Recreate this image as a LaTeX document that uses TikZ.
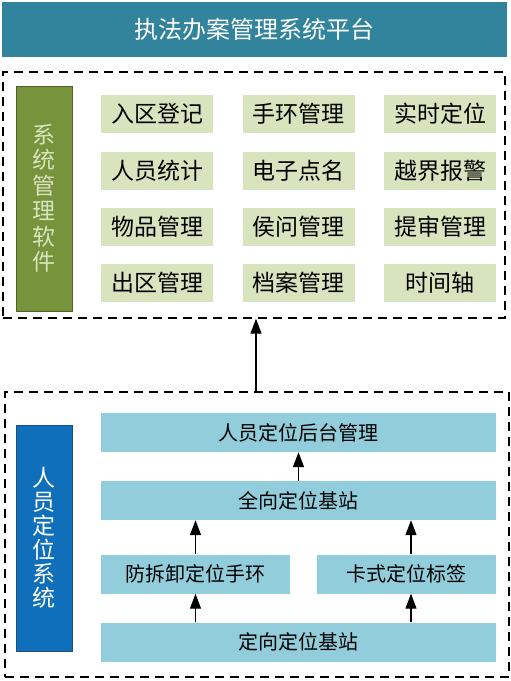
\documentclass[tikz,border=0pt]{standalone}
\usepackage{fontspec}
\usepackage{xcolor}
\newfontfamily\cjk{Noto Sans CJK SC}
\usetikzlibrary{arrows.meta}

\definecolor{bannerteal}{HTML}{31849B}
\definecolor{softgreen}{HTML}{77933C}
\definecolor{softgreenline}{HTML}{4F6228}
\definecolor{funcgreen}{HTML}{D7E4BD}
\definecolor{locblue}{HTML}{0F6FBA}
\definecolor{locblueline}{HTML}{1F4E79}
\definecolor{partblue}{HTML}{92CDDC}

\tikzset{
  banner/.style={fill=bannerteal, text=white, minimum width=505pt, minimum height=55pt,
    font=\cjk\fontsize{24}{27}\selectfont},
  groupbox/.style={draw, line width=1.3pt, dash pattern=on 9pt off 6pt},
  sidebox/.style={draw, line width=1pt, minimum width=56pt, align=center, inner sep=0pt},
  func/.style={fill=funcgreen, minimum width=112pt, minimum height=38pt,
    font=\cjk\fontsize{23}{26}\selectfont},
  part/.style={fill=partblue, minimum height=39pt, inner sep=0pt,
    font=\cjk\fontsize{20}{23}\selectfont},
  uparrow/.style={-{Triangle[length=15pt,width=11pt]}, line width=1.2pt}
}

\begin{document}
\begin{tikzpicture}[x=1pt,y=-1pt]
    \useasboundingbox (0,0) rectangle (511,681);
    % platform banner
    \node[banner] (platform) at (254.5,29.5) {执法办案管理系统平台};

    % management software
    \node[groupbox, minimum width=502pt, minimum height=246pt] (softbox) at (254,195) {};
    \node[sidebox, fill=softgreen, draw=softgreenline, text=funcgreen, minimum height=225pt,
      font=\cjk\fontsize{23}{25.5}\selectfont] (soft) at (44,198.5)
      {系\\统\\管\\理\\软\\件};
    \node[func] (f11) at (157,114) {入区登记};
    \node[func] (f12) at (298.5,114) {手环管理};
    \node[func] (f13) at (440,114) {实时定位};
    \node[func] (f21) at (157,171) {人员统计};
    \node[func] (f22) at (298.5,171) {电子点名};
    \node[func] (f23) at (440,171) {越界报警};
    \node[func] (f31) at (157,227) {物品管理};
    \node[func] (f32) at (298.5,227) {侯问管理};
    \node[func] (f33) at (440,227) {提审管理};
    \node[func] (f41) at (157,283) {出区管理};
    \node[func] (f42) at (298.5,283) {档案管理};
    \node[func] (f43) at (440,283) {时间轴};

    % personnel positioning
    \node[groupbox, minimum width=504pt, minimum height=285pt] (locbox) at (257,534.5) {};
    \node[sidebox, fill=locblue, draw=locblueline, text=white, minimum height=226pt,
      font=\cjk\fontsize{23}{24}\selectfont] (loc) at (44,538)
      {人\\员\\定\\位\\系\\统};
    \node[part, minimum width=395pt] (backend) at (298.5,432.5) {人员定位后台管理};
    \node[part, minimum width=395pt] (omni) at (298.5,500.5) {全向定位基站};
    \node[part, minimum width=189pt] (band) at (195.5,574) {防拆卸定位手环};
    \node[part, minimum width=179pt] (card) at (406.5,574) {卡式定位标签};
    \node[part, minimum width=395pt] (direct) at (298.5,642) {定向定位基站};

    \draw[uparrow] (omni) -- (backend);
    \draw[uparrow] (band) -- (band |- omni.south);
    \draw[uparrow] (card.north -| 411,0) -- (omni.south -| 411,0);
    \draw[uparrow] (direct.north -| band) -- (band);
    \draw[uparrow] (direct.north -| 411,0) -- (card.south -| 411,0);
    \draw[uparrow] (locbox.north -| 256,0) -- (softbox.south -| 256,0);
\end{tikzpicture}
\end{document}
